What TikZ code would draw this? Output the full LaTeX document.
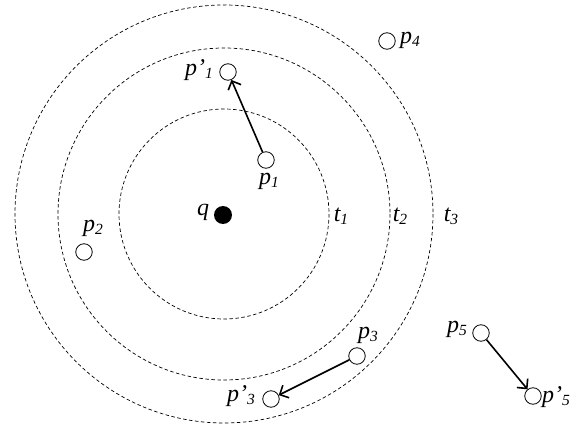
\documentclass[tikz,border=0pt]{standalone}
\usepackage{fontspec}
\setmainfont{Liberation Serif}
\usetikzlibrary{arrows.meta}
\newcommand{\lbl}[2]{{\fontsize{24}{28}\selectfont\itshape #1\raisebox{-0.3ex}{\fontsize{15.5}{18}\selectfont #2}}}
\begin{document}
\begin{tikzpicture}[x=1pt,y=-1pt,
  ring/.style={draw,dashed,line width=0.7pt,dash pattern=on 3.5pt off 2.5pt},
  pt/.style={circle,draw,line width=0.8pt,minimum size=16.5pt,inner sep=0pt},
  mv/.style={line width=1.6pt,-{Straight Barb[length=7pt,width=14pt,line width=1.6pt]}},
  tx/.style={inner sep=0pt}]
\useasboundingbox (0,0) rectangle (571,428);
\coordinate (c) at (224,214);
\draw[ring] (c) circle[radius=105];
\draw[ring] (c) circle[radius=166];
\draw[ring] (c) circle[radius=209];
\node[circle,fill=black,minimum size=18pt,inner sep=0pt] (q) at (223,215) {};
\node[tx] (ql) at (203,212) {\lbl{q}{}};
\node[pt] (p1) at (266,160) {};
\node[pt] (p1p) at (228,72) {};
\node[pt] (p2) at (84,252) {};
\node[pt] (p3) at (357,356) {};
\node[pt] (p3p) at (271,399) {};
\node[pt] (p4) at (387,41) {};
\node[pt] (p5) at (481,333) {};
\node[pt] (p5p) at (533,396) {};
\node[tx] (l1) at (269,181) {\lbl{p}{1}};
\node[tx] (l1p) at (199,70) {\lbl{p'}{1}};
\node[tx] (l2) at (93,228) {\lbl{p}{2}};
\node[tx] (l3) at (368,335) {\lbl{p}{3}};
\node[tx] (l3p) at (241,396) {\lbl{p'}{3}};
\node[tx] (l4) at (410,40) {\lbl{p}{4}};
\node[tx] (l5) at (457,329) {\lbl{p}{5}};
\node[tx] (l5p) at (556,397) {\lbl{p'}{5}};
\node[tx] (t1) at (341,216) {\lbl{t}{1}};
\node[tx] (t2) at (400,216) {\lbl{t}{2}};
\node[tx] (t3) at (451,216) {\lbl{t}{3}};
\draw[mv] (p1) -- (p1p);
\draw[mv] (p3) -- (p3p);
\draw[mv] (p5) -- (p5p);
\end{tikzpicture}
\end{document}
